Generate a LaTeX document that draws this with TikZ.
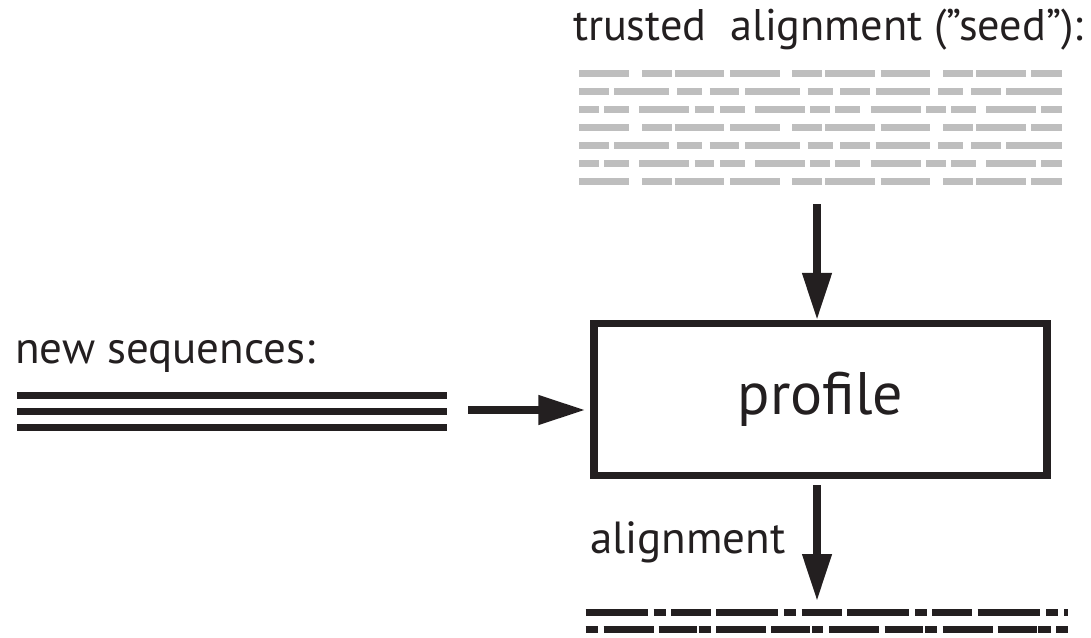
\documentclass[tikz,border=0pt]{standalone}
\usepackage{fontspec}
\setmainfont{PT Sans}
\usetikzlibrary{arrows.meta}
\definecolor{ink}{HTML}{231F20}
\definecolor{seedgray}{HTML}{BEBEBE}
\begin{document}
\begin{tikzpicture}[x=1pt,y=-1pt,
  lbl/.style={anchor=base west,inner sep=0pt,outer sep=0pt,text=ink,font=\fontsize{45}{54}\selectfont},
  seedbar/.style={draw=seedgray,line width=7pt},
  alnbar/.style={draw=ink,line width=7pt},
  seqline/.style={draw=ink,line width=7pt},
  flow/.style={draw=ink,line width=7.5pt,-{Triangle[length=47pt,width=28pt]}},
  profilebox/.style={draw=ink,line width=7.3pt,minimum width=453pt,minimum height=152pt,inner sep=0pt,text=ink,font=\fontsize{60}{70}\selectfont}]
\useasboundingbox (0,0) rectangle (1091,637);

% labels
\node[lbl,font=\fontsize{44.3}{54}\selectfont] (seedlbl) at (573,40) {trusted\ \ alignment (”seed”):};
\node[lbl] (newlbl) at (15,363) {new sequences:};
\node[lbl] (alnlbl) at (590,553.3) {alignment};

% profile box
\node[profilebox] (prof) at (820.5,399.6) {\raisebox{-3pt}{profile}};

% trusted seed alignment (gray)
\foreach \y in {73.3,127.5,181.7}
  \foreach \a/\b in {579/629,642/671.7,674.7/724.3,730/780,792.3/822.3,825.3/875,880.7/930.3,943.3/973,976/1026,1031.3/1061.7}
    \draw[seedbar] (\a,\y) -- (\b,\y);
\foreach \y in {91.4,145.6}
  \foreach \a/\b in {579/609,614.3/669,677/702,709.7/739.3,745/799.7,807.7/832.7,840.3/870,875.7/930.3,938.3/963.3,971/1000.7,1006.3/1061.7}
    \draw[seedbar] (\a,\y) -- (\b,\y);
\foreach \y in {109.5,163.7}
  \foreach \a/\b in {579/599,604.3/629,639.3/689.3,694.7/714.3,720/744.7,755/805,810/830,835.3/860,870.7/920.7,926/945.7,951/976,986.3/1036,1041.3/1061.7}
    \draw[seedbar] (\a,\y) -- (\b,\y);

% new sequences
\foreach \y in {395,411.3,427.7}
  \draw[seqline] (17,\y) -- (447,\y);

% resulting alignment
\foreach \a/\b in {585.7/647.7,653.7/665.7,671/711,716.3/778,784/796,801.7/841.7,847/909,915/927,932.3/972.3,977.7/1040,1046/1058,1064/1068.3}
  \draw[alnbar] (\a,612.3) -- (\b,612.3);
\foreach \a/\b in {585.7/598.3,603.7/653.7,658.7/697,698.7/711,716.3/766.3,771.3/810,812/823.3,829.3/879.3,884.7/923.3,925.3/937.3,942.7/992.7,997.7/1036.7,1038.3/1050.7,1056/1068.3}
  \draw[alnbar] (\a,629.2) -- (\b,629.2);

% connectors
\coordinate (seedout) at (817,204);
\draw[flow] (seedout) -- (seedout |- prof.north);
\coordinate (seqout) at (468,410);
\draw[flow,shorten >=5pt] (seqout) -- (seqout -| prof.west);
\coordinate (outstart) at (817,485);
\coordinate (outend) at (817,601);
\draw[flow] (outstart) -- (outend);
\end{tikzpicture}
\end{document}
